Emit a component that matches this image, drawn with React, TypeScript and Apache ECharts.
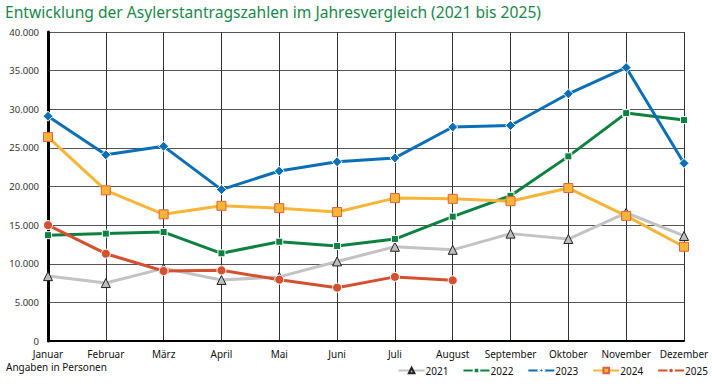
import React, { useEffect, useRef } from "react";
import * as echarts from "echarts";

const months = ["Januar", "Februar", "März", "April", "Mai", "Juni", "Juli", "August", "September", "Oktober", "November", "Dezember"];
const y2021 = [8400, 7500, 9400, 7900, 8300, 10300, 12200, 11800, 13900, 13200, 16600, 13600];
const y2022 = [13700, 13900, 14100, 11350, 12850, 12300, 13200, 16100, 18800, 23900, 29500, 28600];
const y2023 = [29100, 24100, 25200, 19600, 22000, 23200, 23700, 27700, 27900, 32000, 35400, 23000];
const y2024 = [26400, 19500, 16400, 17500, 17200, 16700, 18500, 18400, 18100, 19800, 16200, 12200];
const y2025 = [15000, 11300, 9060, 9150, 7940, 6900, 8300, 7850];
const yTicks = { min: 0, max: 40000, interval: 5000 };

const FONT = "'Noto Sans', sans-serif";

export default function App() {
  const ref = useRef<HTMLDivElement>(null);
  useEffect(() => {
    const chart = echarts.init(ref.current!, undefined, { renderer: "svg" });
    const mk = (name: string, data: number[], color: string, symbol: string, size: number, itemStyle: any) => ({
      name,
      type: "line",
      data,
      symbol,
      symbolSize: size,
      lineStyle: { color, width: 3 },
      itemStyle,
      z: 3,
    });
    chart.setOption({
      animation: false,
      title: {
        text: "Entwicklung der Asylerstantragszahlen im Jahresvergleich (2021 bis 2025)",
        left: 5,
        top: 3,
        padding: 0,
        textStyle: { color: "#17894a", fontSize: 15.6, fontWeight: "normal", fontFamily: FONT, lineHeight: 18 },
      },
      grid: { left: 48, right: 28, top: 32, bottom: 43, containLabel: false },
      xAxis: {
        type: "category",
        data: months,
        boundaryGap: false,
        axisLine: { lineStyle: { color: "#000", width: 2 } },
        axisTick: { show: false },
        axisLabel: { color: "#111", fontSize: 10, lineHeight: 11, fontFamily: FONT, margin: 7, interval: 0 },
        splitLine: { show: true, lineStyle: { color: "#333", width: 1 } },
      },
      yAxis: {
        type: "value",
        min: yTicks.min,
        max: yTicks.max,
        interval: yTicks.interval,
        axisLine: { show: true, lineStyle: { color: "#000", width: 3 } },
        axisTick: { show: false },
        axisLabel: {
          color: "#333",
          fontSize: 9.5,
          lineHeight: 9,
          fontFamily: FONT,
          margin: 9,
          formatter: (v: number) => v.toLocaleString("de-DE"),
        },
        splitLine: { lineStyle: { color: "#555", width: 1 } },
      },
      legend: {
        right: 4,
        bottom: 8,
        padding: 0,
        itemWidth: 26,
        itemHeight: 7,
        itemGap: 14,
        textStyle: { fontSize: 10, lineHeight: 11, color: "#111", fontFamily: FONT, padding: [0, 0, 0, -4] },
        data: ["2021", "2022", "2023", "2024", "2025"],
      },
      graphic: [
        {
          type: "text",
          left: 6,
          top: 361,
          style: { text: "Angaben in Personen", fontSize: 10, lineHeight: 11, fill: "#111", fontFamily: FONT },
        },
      ],
      series: [
        mk("2021", y2021, "#c3c3c3", "triangle", 9, { color: "#bdbdbd", borderColor: "#222", borderWidth: 1 }),
        mk("2022", y2022, "#0d8240", "rect", 7, { color: "#0d8240", borderColor: "#fff", borderWidth: 1 }),
        mk("2023", y2023, "#0a6fb5", "diamond", 10, { color: "#0a6fb5", borderColor: "#fff", borderWidth: 1 }),
        mk("2024", y2024, "#f7b538", "rect", 9, { color: "#f7b538", borderColor: "#e0623c", borderWidth: 1 }),
        mk("2025", y2025, "#d4502f", "circle", 9, { color: "#d4502f", borderColor: "#fff", borderWidth: 1 }),
      ],
    });
    return () => chart.dispose();
  }, []);
  return <div ref={ref} style={{ width: 712, height: 384, position: "absolute", left: 0, top: 0 }} />;
}
